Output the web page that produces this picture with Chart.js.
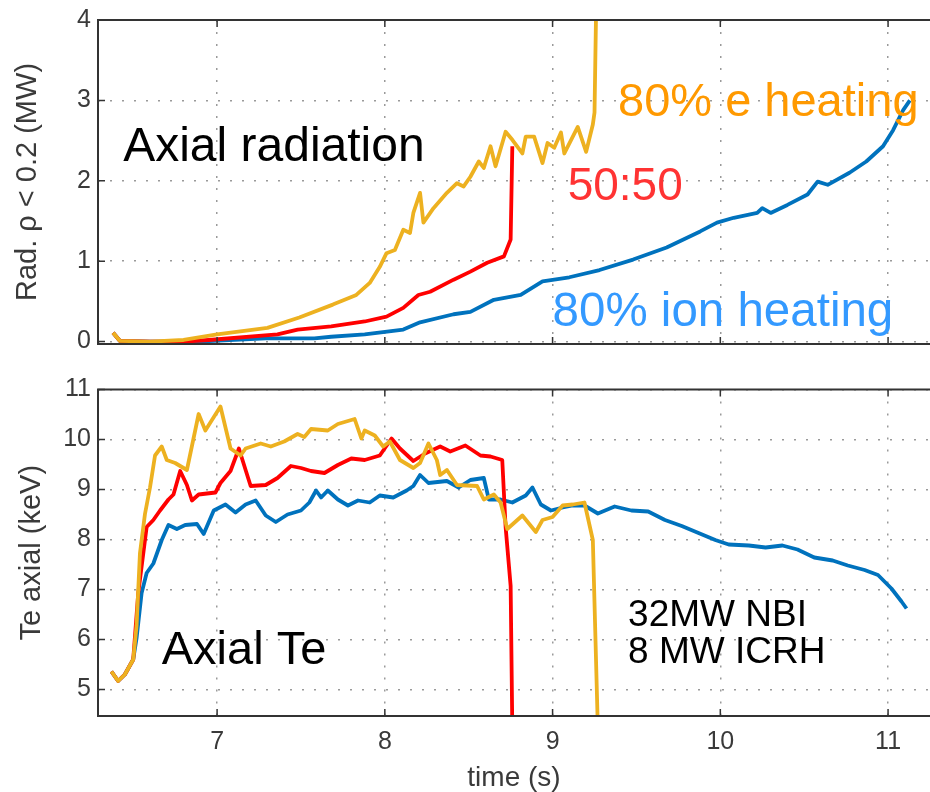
<!DOCTYPE html>
<html>
<head>
<meta charset="utf-8">
<script src="https://cdn.jsdelivr.net/npm/chart.js@4.4.0/dist/chart.umd.min.js"></script>
<style>
  html, body { margin: 0; padding: 0; background: #fff; }
  #wrap { position: relative; width: 930px; height: 792px; overflow: hidden; }
  .panel { position: absolute; left: 0; width: 930px; }
  #top { top: 0; height: 370px; }
  #bottom { top: 370px; height: 422px; }
</style>
</head>
<body>
<div id="wrap">
  <div class="panel" id="top"><canvas id="radChart"></canvas></div>
  <div class="panel" id="bottom"><canvas id="teChart"></canvas></div>
</div>
<script>
// Tick values
const xTicks = [7, 8, 9, 10, 11];
const radTicks = [0, 1, 2, 3, 4];
const teTicks = [5, 6, 7, 8, 9, 10, 11];

// Top panel: axial radiation (MW)
const radTimeE = [6.38, 6.42, 6.6, 6.8, 7.0, 7.3, 7.49, 7.69, 7.83, 7.91, 7.97, 8.01, 8.06, 8.11, 8.15, 8.17, 8.21, 8.23, 8.29, 8.37, 8.43, 8.47, 8.51, 8.56, 8.59, 8.63, 8.66, 8.72, 8.76, 8.82, 8.84, 8.89, 8.94, 8.97, 9.01, 9.05, 9.07, 9.15, 9.20, 9.24, 9.25, 9.26];
const radE = [0.11, 0.01, 0.0, 0.02, 0.09, 0.17, 0.30, 0.46, 0.58, 0.73, 0.93, 1.10, 1.14, 1.39, 1.35, 1.60, 1.85, 1.48, 1.66, 1.85, 1.97, 1.93, 2.05, 2.24, 2.16, 2.43, 2.18, 2.61, 2.51, 2.34, 2.55, 2.55, 2.22, 2.47, 2.41, 2.60, 2.34, 2.67, 2.36, 2.70, 2.85, 4.2];

const radTimeMix = [6.38, 6.42, 6.6, 6.8, 6.95, 7.36, 7.48, 7.68, 7.88, 8.01, 8.11, 8.20, 8.27, 8.41, 8.51, 8.61, 8.71, 8.75, 8.76];
const radMix = [0.11, 0.01, 0.0, 0.0, 0.02, 0.09, 0.15, 0.19, 0.25, 0.31, 0.42, 0.58, 0.62, 0.77, 0.87, 0.98, 1.06, 1.27, 2.43];

const radTimeIon = [6.38, 6.42, 6.6, 6.89, 7.29, 7.58, 7.68, 7.88, 8.11, 8.21, 8.41, 8.51, 8.65, 8.81, 8.94, 9.10, 9.28, 9.48, 9.68, 9.88, 9.98, 10.08, 10.22, 10.25, 10.30, 10.40, 10.52, 10.58, 10.64, 10.77, 10.87, 10.97, 11.03, 11.09, 11.13];
const radIon = [0.11, 0.01, 0.0, 0.0, 0.04, 0.04, 0.06, 0.09, 0.15, 0.24, 0.34, 0.37, 0.52, 0.58, 0.75, 0.80, 0.89, 1.02, 1.17, 1.37, 1.48, 1.54, 1.60, 1.66, 1.60, 1.70, 1.83, 1.99, 1.95, 2.10, 2.24, 2.43, 2.63, 2.88, 3.0];

// Bottom panel: axial Te (keV)
const teTimeE = [6.37, 6.41, 6.45, 6.50, 6.52, 6.54, 6.57, 6.60, 6.63, 6.67, 6.70, 6.75, 6.82, 6.89, 6.93, 7.02, 7.08, 7.14, 7.17, 7.26, 7.32, 7.40, 7.48, 7.52, 7.56, 7.66, 7.72, 7.82, 7.86, 7.88, 7.94, 7.99, 8.03, 8.09, 8.17, 8.21, 8.26, 8.31, 8.33, 8.37, 8.43, 8.55, 8.59, 8.65, 8.69, 8.73, 8.82, 8.90, 8.94, 9.00, 9.06, 9.12, 9.19, 9.24, 9.27];
const teE = [5.36, 5.17, 5.30, 5.60, 6.28, 7.72, 8.51, 9.04, 9.68, 9.86, 9.59, 9.53, 9.39, 10.51, 10.18, 10.66, 9.82, 9.68, 9.82, 9.92, 9.86, 9.96, 10.11, 10.05, 10.21, 10.18, 10.31, 10.41, 10.02, 10.18, 10.08, 9.86, 9.96, 9.59, 9.43, 9.53, 9.92, 9.59, 9.29, 9.39, 9.09, 9.07, 8.80, 8.90, 8.74, 8.21, 8.48, 8.15, 8.39, 8.45, 8.68, 8.70, 8.74, 7.99, 4.2];

const teTimeMix = [6.37, 6.41, 6.45, 6.50, 6.53, 6.58, 6.62, 6.66, 6.71, 6.74, 6.78, 6.82, 6.85, 6.89, 6.99, 7.02, 7.08, 7.13, 7.17, 7.20, 7.29, 7.36, 7.44, 7.50, 7.56, 7.64, 7.72, 7.80, 7.88, 7.97, 8.04, 8.09, 8.17, 8.24, 8.33, 8.39, 8.48, 8.57, 8.63, 8.70, 8.72, 8.75, 8.76];
const teMix = [5.36, 5.17, 5.30, 5.60, 6.93, 8.25, 8.39, 8.58, 8.80, 8.90, 9.37, 9.09, 8.78, 8.90, 8.94, 9.13, 9.37, 9.82, 9.39, 9.07, 9.09, 9.23, 9.47, 9.43, 9.37, 9.33, 9.49, 9.62, 9.59, 9.68, 10.02, 9.82, 9.57, 9.72, 9.86, 9.76, 9.88, 9.68, 9.66, 9.59, 8.25, 7.07, 4.2];

const teTimeIon = [6.37, 6.41, 6.45, 6.50, 6.52, 6.55, 6.58, 6.62, 6.67, 6.71, 6.76, 6.81, 6.88, 6.92, 6.98, 7.05, 7.11, 7.17, 7.23, 7.29, 7.35, 7.42, 7.50, 7.55, 7.59, 7.62, 7.66, 7.72, 7.78, 7.84, 7.91, 7.97, 8.05, 8.13, 8.17, 8.21, 8.26, 8.37, 8.44, 8.51, 8.59, 8.62, 8.69, 8.76, 8.84, 8.88, 8.93, 8.99, 9.06, 9.12, 9.19, 9.27, 9.37, 9.47, 9.57, 9.67, 9.77, 9.87, 9.97, 10.05, 10.17, 10.27, 10.37, 10.46, 10.56, 10.67, 10.76, 10.86, 10.94, 11.02, 11.08, 11.11];
const teIon = [5.36, 5.17, 5.30, 5.60, 6.03, 6.93, 7.33, 7.52, 7.99, 8.29, 8.21, 8.29, 8.31, 8.11, 8.58, 8.70, 8.54, 8.70, 8.78, 8.48, 8.35, 8.50, 8.58, 8.74, 8.98, 8.84, 8.98, 8.80, 8.68, 8.78, 8.74, 8.88, 8.84, 8.98, 9.07, 9.29, 9.13, 9.17, 9.04, 9.19, 9.23, 8.80, 8.80, 8.74, 8.88, 9.04, 8.70, 8.58, 8.64, 8.68, 8.68, 8.52, 8.66, 8.58, 8.56, 8.39, 8.27, 8.13, 7.99, 7.90, 7.88, 7.84, 7.88, 7.80, 7.64, 7.58, 7.48, 7.39, 7.29, 7.02, 6.76, 6.62];

const FONT = '"Liberation Sans", Arial, sans-serif';
const AXIS_COLOR = '#3a3a3a';
const GRID_COLOR = '#9a9a9a';
const COL_E = '#EDB120';
const COL_MIX = '#FF0000';
const COL_ION = '#0072BD';

function pairs(ts, vs) {
    return ts.map((t, i) => ({ x: t, y: vs[i] }));
}

function line(data, color) {
    return {
        data: data,
        borderColor: color,
        borderWidth: 3.8,
        pointRadius: 0,
        tension: 0,
        borderJoinStyle: 'round',
        fill: false
    };
}

function fixedTicks(values) {
    return function(scale) {
        scale.ticks = values.map(v => ({ value: v }));
    };
}

// Frame round the plot area, inward tick marks, and the text labels
function framePlugin(labels) {
    return {
        id: 'frame',
        afterDraw(chart) {
            const ctx = chart.ctx;
            const a = chart.chartArea;
            const xs = chart.scales.x;
            const ys = chart.scales.y;
            ctx.save();
            ctx.strokeStyle = '#333';
            ctx.lineWidth = 1.5;
            ctx.beginPath();
            xTicks.forEach(v => {
                const px = xs.getPixelForValue(v);
                ctx.moveTo(px, a.bottom); ctx.lineTo(px, a.bottom - 7);
                ctx.moveTo(px, a.top); ctx.lineTo(px, a.top + 7);
            });
            ys.ticks.forEach(t => {
                const py = ys.getPixelForValue(t.value);
                ctx.moveTo(a.left, py); ctx.lineTo(a.left + 7, py);
            });
            ctx.stroke();
            ctx.lineWidth = 2;
            ctx.strokeRect(a.left, a.top, a.right - a.left + 4, a.bottom - a.top);

            ctx.textAlign = 'left';
            ctx.textBaseline = 'alphabetic';
            labels.forEach(l => {
                ctx.font = l.size + 'px ' + FONT;
                ctx.fillStyle = l.color;
                ctx.fillText(l.text, xs.getPixelForValue(l.x), ys.getPixelForValue(l.y));
            });
            ctx.restore();
        }
    };
}

function xScale(showLabels) {
    const s = {
        type: 'linear',
        min: 6.29,
        max: 11.25,
        afterBuildTicks: fixedTicks(xTicks),
        grid: { color: GRID_COLOR, lineWidth: 1.5, drawTicks: false },
        border: { display: false, dash: [2, 10] },
        ticks: { display: false }
    };
    if (showLabels) {
        s.ticks = { display: true, color: AXIS_COLOR, padding: 14, maxRotation: 0,
                    font: { family: FONT, size: 25, lineHeight: 1 } };
        s.title = { display: true, text: 'time (s)', color: AXIS_COLOR,
                    font: { family: FONT, size: 28, lineHeight: 1 }, padding: { top: 0, bottom: 0 } };
        s.afterFit = function(scale) { scale.height = 76; };
    }
    return s;
}

function yScale(min, max, tickValues, title, titlePad) {
    return {
        min: min,
        max: max,
        afterBuildTicks: fixedTicks(tickValues),
        afterFit: function(scale) { scale.width = 98; },
        grid: { color: GRID_COLOR, lineWidth: 1.5, drawTicks: false },
        border: { display: false, dash: [2, 10] },
        ticks: { color: AXIS_COLOR, padding: 7, font: { family: FONT, size: 25, lineHeight: 1 } },
        title: { display: true, text: title, color: AXIS_COLOR,
                 font: { family: FONT, size: 29, lineHeight: 1 }, padding: { top: titlePad, bottom: 0 } }
    };
}

const commonPlugins = {
    legend: { display: false },
    tooltip: { enabled: false }
};

new Chart(document.getElementById('radChart'), {
    type: 'line',
    data: {
        datasets: [
            line(pairs(radTimeE, radE), COL_E),
            line(pairs(radTimeMix, radMix), COL_MIX),
            line(pairs(radTimeIon, radIon), COL_ION)
        ]
    },
    options: {
        responsive: true,
        maintainAspectRatio: false,
        animation: false,
        layout: { padding: { top: 20, right: 0, bottom: 26, left: 0 } },
        plugins: commonPlugins,
        scales: {
            x: xScale(false),
            y: yScale(-0.03, 4, radTicks, 'Rad. ρ < 0.2 (MW)', 13)
        }
    },
    plugins: [framePlugin([
        { text: 'Axial radiation', x: 6.44, y: 2.24, size: 48, color: '#000' },
        { text: '80% e heating', x: 9.39, y: 2.80, size: 47, color: '#FF9900' },
        { text: '50:50', x: 9.09, y: 1.76, size: 46, color: '#FF3333' },
        { text: '80% ion heating', x: 9.00, y: 0.19, size: 47.5, color: '#3399FF' }
    ])]
});

new Chart(document.getElementById('teChart'), {
    type: 'line',
    data: {
        datasets: [
            line(pairs(teTimeE, teE), COL_E),
            line(pairs(teTimeMix, teMix), COL_MIX),
            line(pairs(teTimeIon, teIon), COL_ION)
        ]
    },
    options: {
        responsive: true,
        maintainAspectRatio: false,
        animation: false,
        layout: { padding: { top: 14, right: 0, bottom: 0, left: 0 } },
        plugins: commonPlugins,
        scales: {
            x: xScale(true),
            y: yScale(4.47, 11, teTicks, 'Te axial (keV)', 17)
        }
    },
    plugins: [framePlugin([
        { text: 'Axial Te', x: 6.67, y: 5.52, size: 47, color: '#000' },
        { text: '32MW NBI', x: 9.45, y: 6.27, size: 37, color: '#000' },
        { text: '8 MW ICRH', x: 9.45, y: 5.54, size: 37, color: '#000' }
    ])]
});
</script>
</body>
</html>
